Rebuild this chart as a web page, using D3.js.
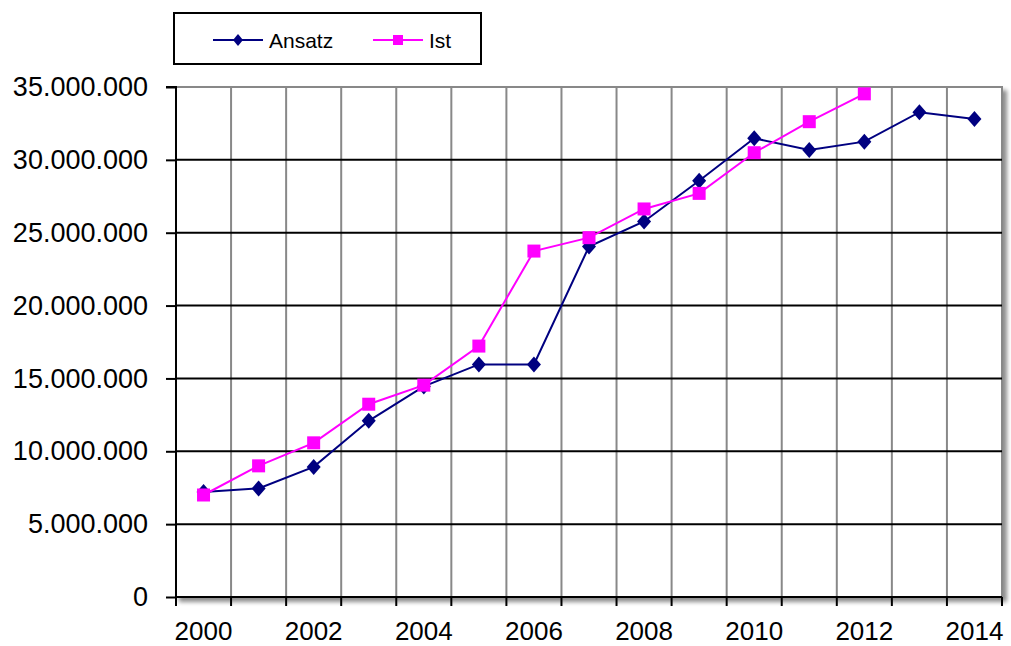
<!DOCTYPE html>
<html>
<head>
<meta charset="utf-8">
<script src="https://d3js.org/d3.v7.min.js"></script>
<style>
  body { margin: 0; background: #fff; }
  text { font-family: "Liberation Sans", Arial, sans-serif; }
</style>
</head>
<body>
<svg id="chart" width="1011" height="646"></svg>
<script>
// data
const years = ["2000","2001","2002","2003","2004","2005","2006","2007","2008","2009","2010","2011","2012","2013","2014"];
const ansatz = [7200000, 7450000, 8930000, 12090000, 14450000, 15960000, 15960000, 24050000, 25770000, 28570000, 31480000, 30680000, 31250000, 33270000, 32810000];
const ist = [7000000, 9000000, 10580000, 13230000, 14540000, 17220000, 23740000, 24660000, 26630000, 27700000, 30490000, 32620000, 34530000, null, null];
const yTicks = [0, 5000000, 10000000, 15000000, 20000000, 25000000, 30000000, 35000000];
const seriesNames = ["Ansatz", "Ist"];

const svg = d3.select("#chart");
const pLeft = 176, pRight = 1002, pTop = 87, pBottom = 597;

const x = d3.scaleBand().domain(years).range([pLeft, pRight]).padding(0);
const y = d3.scaleLinear().domain([0, 35000000]).range([pBottom, pTop]);
const fmt = d3.formatLocale({decimal: ",", thousands: ".", grouping: [3], currency: ["", "€"]}).format(",");

// drop shadow of the plot area
const defs = svg.append("defs");
const f = defs.append("filter").attr("id", "shadow").attr("x", "-5%").attr("y", "-5%").attr("width", "110%").attr("height", "110%");
f.append("feGaussianBlur").attr("in", "SourceAlpha").attr("stdDeviation", 2);
f.append("feOffset").attr("dx", 4).attr("dy", 4).attr("result", "b");
f.append("feComponentTransfer").append("feFuncA").attr("type", "linear").attr("slope", 0.45);
const m = f.append("feMerge");
m.append("feMergeNode");
m.append("feMergeNode").attr("in", "SourceGraphic");

svg.append("rect")
  .attr("x", pLeft).attr("y", pTop).attr("width", pRight - pLeft).attr("height", pBottom - pTop)
  .attr("fill", "#fff").attr("stroke", "#888").attr("stroke-width", 2)
  .attr("filter", "url(#shadow)");

// vertical gridlines at category boundaries
const bounds = years.map(d => x(d)).concat([pRight]);
svg.append("g").selectAll("line").data(bounds.slice(1))
  .join("line")
  .attr("x1", d => d).attr("x2", d => d)
  .attr("y1", pTop).attr("y2", pBottom)
  .attr("stroke", "#888").attr("stroke-width", 2);

// horizontal gridlines
svg.append("g").selectAll("line").data(yTicks.slice(1, -1))
  .join("line")
  .attr("x1", pLeft).attr("x2", pRight)
  .attr("y1", d => y(d)).attr("y2", d => y(d))
  .attr("stroke", "#000").attr("stroke-width", 2);

// y axis
const yAxis = d3.axisLeft(y).tickValues(yTicks).tickSize(10).tickPadding(18).tickFormat(fmt);
const ya = svg.append("g").attr("transform", `translate(${pLeft},0)`).call(yAxis);
ya.select(".domain").attr("stroke-width", 2).attr("d", `M-10,${pTop}H0V${pBottom + 1}`);
ya.selectAll(".tick line").attr("stroke-width", 2);
ya.selectAll(".tick text").attr("font-size", 27).attr("fill", "#000")
  .attr("font-family", "Liberation Sans, Arial, sans-serif");

// x axis: ticks on boundaries, labels on every second category
const xa = svg.append("g");
xa.append("line").attr("x1", pLeft).attr("x2", pRight).attr("y1", pBottom).attr("y2", pBottom)
  .attr("stroke", "#000").attr("stroke-width", 2);
xa.selectAll(".xt").data(bounds).join("line").attr("class", "xt")
  .attr("x1", d => d).attr("x2", d => d).attr("y1", pBottom).attr("y2", pBottom + 9)
  .attr("stroke", "#000").attr("stroke-width", 2);
xa.selectAll("text").data(years.filter((d, i) => i % 2 === 0)).join("text")
  .attr("x", d => x(d) + x.bandwidth() / 2)
  .attr("y", 640)
  .attr("text-anchor", "middle")
  .attr("font-size", 26)
  .text(d => d);

// series
const cx = d => x(d) + x.bandwidth() / 2;
const line = d3.line().defined(d => d[1] != null).x(d => cx(d[0])).y(d => y(d[1]));

const ansPts = years.map((d, i) => [d, ansatz[i]]);
const istPts = years.map((d, i) => [d, ist[i]]).filter(d => d[1] != null);

svg.append("path").attr("d", line(ansPts)).attr("fill", "none").attr("stroke", "#000080").attr("stroke-width", 2);
svg.append("g").selectAll("path").data(ansPts).join("path")
  .attr("transform", d => `translate(${cx(d[0])},${y(d[1])})`)
  .attr("d", "M0,-8L7,0L0,8L-7,0Z").attr("fill", "#000080");

svg.append("path").attr("d", line(istPts)).attr("fill", "none").attr("stroke", "#ff00ff").attr("stroke-width", 2);
svg.append("g").selectAll("rect").data(istPts).join("rect")
  .attr("x", d => cx(d[0]) - 6.5).attr("y", d => y(d[1]) - 6.5)
  .attr("width", 13).attr("height", 13).attr("fill", "#ff00ff");

// legend
const lg = svg.append("g");
lg.append("rect").attr("x", 174).attr("y", 13).attr("width", 307).attr("height", 51)
  .attr("fill", "#fff").attr("stroke", "#000").attr("stroke-width", 2);
const items = [
  {name: seriesNames[0], color: "#000080", x: 213, tx: 269, shape: "diamond"},
  {name: seriesNames[1], color: "#ff00ff", x: 373, tx: 429, shape: "square"}
];
items.forEach(it => {
  lg.append("line").attr("x1", it.x).attr("x2", it.x + 50).attr("y1", 40).attr("y2", 40)
    .attr("stroke", it.color).attr("stroke-width", 2);
  if (it.shape === "diamond") {
    lg.append("path").attr("transform", `translate(${it.x + 25},40)`)
      .attr("d", "M0,-6L5,0L0,6L-5,0Z").attr("fill", it.color);
  } else {
    lg.append("rect").attr("x", it.x + 25 - 5).attr("y", 35).attr("width", 10).attr("height", 10)
      .attr("fill", it.color);
  }
  lg.append("text").attr("x", it.tx).attr("y", 47.5).attr("font-size", 21).text(it.name);
});
</script>
</body>
</html>
